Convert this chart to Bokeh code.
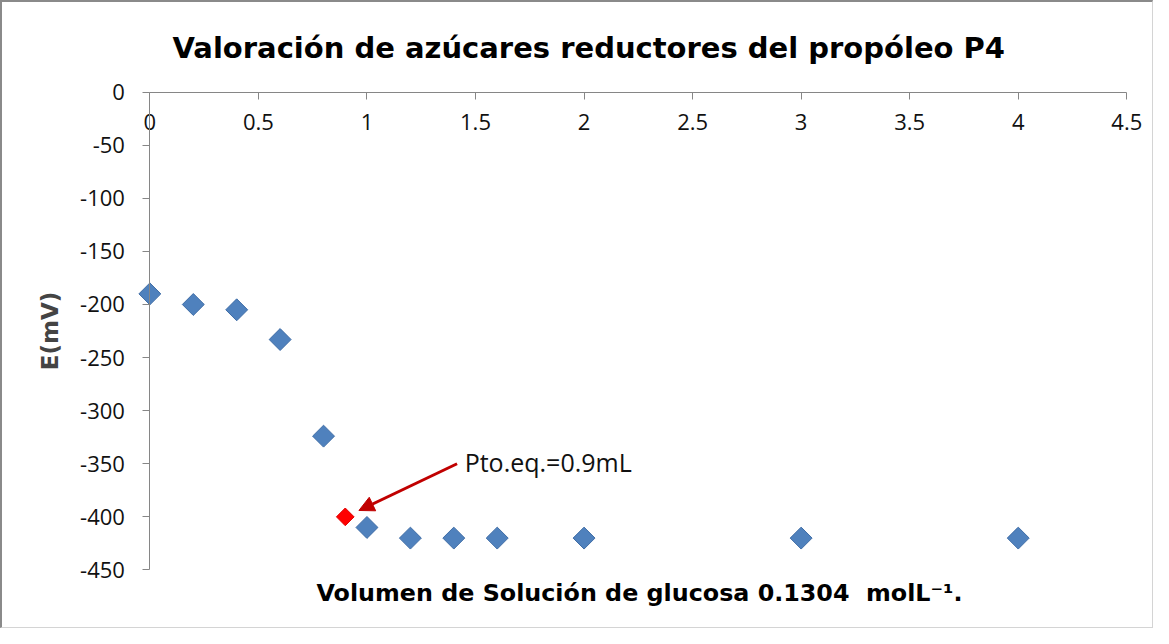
from bokeh.plotting import figure
from bokeh.models import (Range1d, LinearAxis, FixedTicker, Title, Label, Arrow,
                          NormalHead, ColumnDataSource)
from bokeh.embed import file_html
from bokeh.resources import INLINE
import math

# ---- data ----
volumen = [0.0, 0.2, 0.4, 0.6, 0.8, 1.0, 1.2, 1.4, 1.6, 2.0, 3.0, 4.0]
potencial = [-190, -200, -205, -233, -324, -410, -420, -420, -420, -420, -420, -420]
eq_volumen = [0.9]
eq_potencial = [-400]

x_ticks = [0, 0.5, 1, 1.5, 2, 2.5, 3, 3.5, 4, 4.5]
x_tick_labels = ["0", "0.5", "1", "1.5", "2", "2.5", "3", "3.5", "4", "4.5"]
y_ticks = [-450, -400, -350, -300, -250, -200, -150, -100, -50, 0]
y_tick_labels = ["-450", "-400", "-350", "-300", "-250", "-200", "-150", "-100", "-50", "0"]

title_text = "Valoración de azúcares reductores del propóleo P4"
x_title = "Volumen de Solución de glucosa 0.1304\u00a0 molL\u207b\u00b9."
y_title = "E(mV)"
annot_text = "Pto.eq.=0.9mL"
annot_pos = (1.45, -348)
arrow_from = (1.415, -350)
arrow_to = (0.963, -394)

AXIS_COLOR = "#868686"
BLUE = "#4F81BD"

p = figure(frame_width=1138, frame_height=498,
           x_range=Range1d(-0.642, 4.6), y_range=Range1d(-459, 10),
           x_axis_location=None, y_axis_location=None,
           toolbar_location=None, output_backend="svg",
           min_border_left=8, min_border_right=4,
           min_border_top=79, min_border_bottom=48,
           background_fill_color="white", border_fill_color="white",
           outline_line_color=None)
for g in p.grid:
    g.visible = False

p.styles = {"border-left": "2px solid #8a8a8a", "border-top": "2px solid #8a8a8a",
            "border-right": "1px solid #d4d4d4", "border-bottom": "1px solid #d4d4d4"}

# y axis at x = 0
yaxis = LinearAxis(fixed_location=0, ticker=FixedTicker(ticks=y_ticks),
                   bounds=(-450, 0), axis_label=y_title)
yaxis.major_label_overrides = {t: l for t, l in zip(y_ticks, y_tick_labels)}
yaxis.axis_line_color = AXIS_COLOR
yaxis.major_tick_line_color = AXIS_COLOR
yaxis.minor_tick_line_color = None
yaxis.major_tick_out = 7
yaxis.major_tick_in = 0
yaxis.major_label_standoff = 18
yaxis.major_label_text_font = "Open Sans"
yaxis.major_label_text_font_size = "22px"
yaxis.major_label_text_color = "#111111"
yaxis.axis_label_text_font = "DejaVu Sans"
yaxis.axis_label_text_font_style = "bold"
yaxis.axis_label_text_font_size = "23px"
yaxis.axis_label_standoff = 14
p.add_layout(yaxis, "left")

# x axis at y = 0 (top of plot), labels underneath
xaxis = LinearAxis(fixed_location=0, ticker=FixedTicker(ticks=x_ticks),
                   bounds=(0, 4.5))
xaxis.major_label_overrides = {t: l for t, l in zip(x_ticks, x_tick_labels)}
xaxis.axis_line_color = AXIS_COLOR
xaxis.major_tick_line_color = AXIS_COLOR
xaxis.minor_tick_line_color = None
xaxis.major_tick_out = 7
xaxis.major_tick_in = 0
xaxis.major_label_standoff = 15
xaxis.major_label_text_font = "Open Sans"
xaxis.major_label_text_font_size = "22px"
xaxis.major_label_text_color = "#111111"

# titles
p.add_layout(Title(text=title_text, align="left", offset=162,
                   text_font="DejaVu Sans", text_font_style="bold",
                   text_font_size="29px", text_color="#000000", standoff=33), "above")
p.add_layout(Title(text=x_title, align="left", offset=306,
                   text_font="DejaVu Sans", text_font_style="bold",
                   text_font_size="23.8px", text_color="#000000", standoff=-6), "below")
p.add_layout(xaxis, "below")

src = ColumnDataSource(dict(x=volumen, y=potencial))
p.scatter("x", "y", source=src, marker="square", size=15.5, angle=math.pi / 4,
          fill_color=BLUE, line_color="#3F6DA6", line_width=1)
eq_src = ColumnDataSource(dict(x=eq_volumen, y=eq_potencial))
p.scatter("x", "y", source=eq_src, marker="square", size=12.5, angle=math.pi / 4,
          fill_color="#FF0000", line_color="#E00000", line_width=1)

p.add_layout(Arrow(end=NormalHead(size=15, fill_color="#C00000", line_color="#C00000"),
                   x_start=arrow_from[0], y_start=arrow_from[1],
                   x_end=arrow_to[0], y_end=arrow_to[1],
                   line_color="#C00000", line_width=3))
p.add_layout(Label(x=annot_pos[0], y=annot_pos[1], text=annot_text,
                   text_font="Open Sans", text_font_size="25px",
                   text_color="#111111", text_baseline="alphabetic"))

open("out.html", "w").write(file_html(p, INLINE))
